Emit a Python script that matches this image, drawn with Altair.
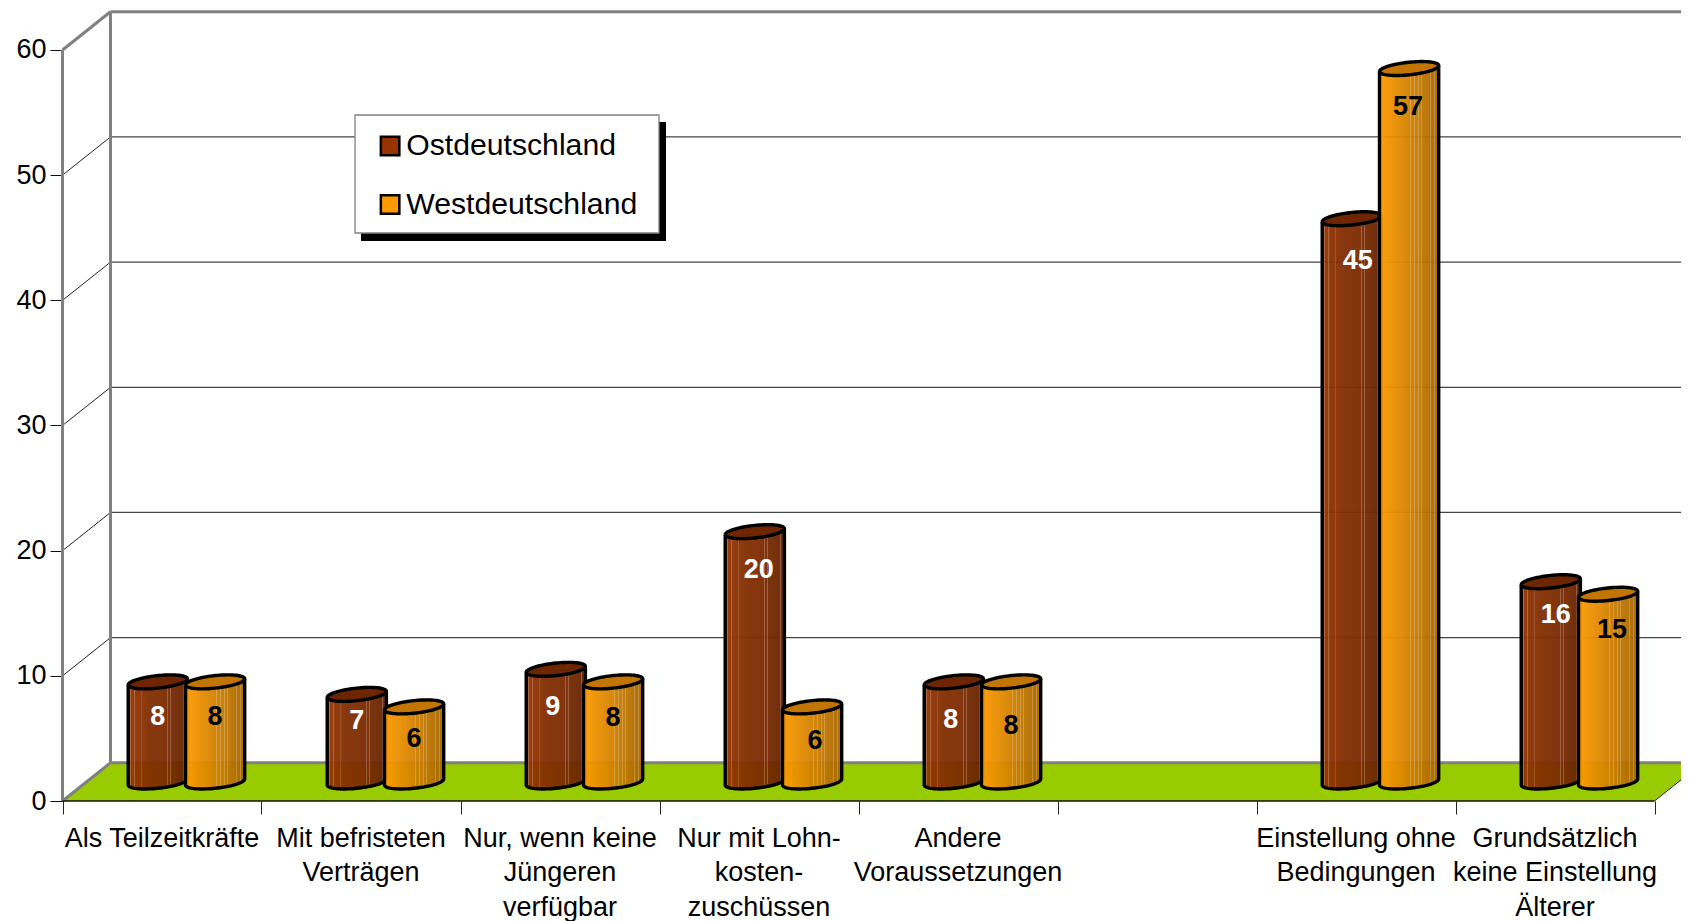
import math
import altair as alt
import pandas as pd

categories = ["Als Teilzeitkräfte", "Mit befristeten\nVerträgen", "Nur, wenn keine\nJüngeren\nverfügbar",
              "Nur mit Lohn-\nkosten-\nzuschüssen", "Andere\nVoraussetzungen", "",
              "Einstellung ohne\nBedingungen", "Grundsätzlich\nkeine Einstellung\nÄlterer"]
ost = [8, 7, 9, 20, 8, None, 45, 16]
west = [8, 6, 8, 6, 8, None, 57, 15]
series_names = ["Ostdeutschland", "Westdeutschland"]
y_ticks = [0, 10, 20, 30, 40, 50, 60]
# where each printed number sits relative to its cylinder (reading of the picture)
ost_drop = [35, 27, 38, 38, 38, 0, 42, 33]
west_drop = [35, 32, 36, 34, 44, 0, 38, 36]
ost_shift = [0, 0, -3, 4, -3, 0, 6, 5]
west_shift = [0, 0, 0, 3, 0, 0, -1, 4]

W, H = 1673, 913
X0, CAT = 62.5, 199.0
Y0, UNIT = 801.0, 12.517
ux = lambda p: (p - X0) / CAT
uy = lambda p: (Y0 - p) / UNIT
DX = 48 / CAT
DY = 38.2 / UNIT
N = len(categories)
FONT = "Liberation Sans"
FS = 27

sx = alt.Scale(domain=[ux(8), ux(8 + W)], nice=False, zero=False)
sy = alt.Scale(domain=[uy(8 + H), uy(8)], nice=False, zero=False)
X = alt.X("x:Q", scale=sx, title=None,
          axis=alt.Axis(values=list(range(N + 1)), labels=False, tickSize=13, tickColor="#222",
                        domain=False, grid=False, offset=-(8 + H - Y0), title=None))
Y = alt.Y("y:Q", scale=sy, title=None,
          axis=alt.Axis(values=y_ticks, tickSize=12.5, tickColor="#111", domain=False, grid=False,
                        offset=-(X0 - 8), labelFont=FONT, labelFontSize=FS, labelColor="black",
                        labelPadding=4, title=None))


def segs(rows):
    out = []
    for i, pts in enumerate(rows):
        for k, (x, y) in enumerate(pts):
            out.append({"x": x, "y": y, "id": i, "k": k})
    return pd.DataFrame(out)


def lines(rows, color, width):
    return alt.Chart(segs(rows)).mark_line(color=color, strokeWidth=width, clip=True).encode(
        x=X, y=Y, detail="id:N", order="k:Q")


def grad(stops):
    return alt.Gradient(gradient="linear", x1=0, x2=1, y1=0, y2=0,
                        stops=[alt.GradientStop(color=c, offset=o) for o, c in stops])


def striped(base, light):
    # smooth horizontal shading with thin pale streaks
    streaks = [.04, .11, .23, .52, .59, .66, .71, .86, .93]
    n = len(base) - 1
    def col(t):
        i = min(int(t * n), n - 1)
        f = t * n - i
        a, b = base[i], base[i + 1]
        return tuple(a[j] + (b[j] - a[j]) * f for j in range(3))
    def hx(c):
        return "#%02x%02x%02x" % tuple(int(round(v)) for v in c)
    stops = []
    marks = sorted([(s, True) for s in streaks] + [(i / 12, False) for i in range(13)])
    for t, st in marks:
        c = col(t)
        if st:
            m = tuple(v + (l - v) * .22 for v, l in zip(c, light))
            stops += [(max(t - .006, 0), hx(c)), (max(t - .005, 0), hx(m)),
                      (t + .005, hx(m)), (t + .006, hx(c))]
        else:
            stops.append((t, hx(c)))
    return grad(stops)


A, K, B = 29.6, 3.0, 6.3
BASE = 782.0
STEPS = 40


def cylinders(values, center_px, fill, cap):
    body, caps, outline = [], [], []
    for i, v in enumerate(values):
        if v is None:
            continue
        cx = X0 + i * CAT + center_px
        base = BASE
        top = BASE - v * UNIT
        up, lo_b, lo_t = [], [], []
        for s in range(STEPS + 1):
            u = -math.cos(math.pi * s / STEPS)
            r = math.sqrt(max(1 - u * u, 0))
            x = cx + A * u
            up.append((x, top - K * u - B * r))
            lo_t.append((x, top - K * u + B * r))
            lo_b.append((x, base - K * u + B * r))
            body.append({"x": ux(x), "y": uy(top - K * u - B * r), "y2": uy(base - K * u + B * r), "id": i})
            caps.append({"x": ux(x), "y": uy(top - K * u - B * r), "y2": uy(top - K * u + B * r), "id": i})
        shape = up + lo_b[::-1] + [up[0]]
        outline.append([(ux(a), uy(b)) for a, b in shape])
        outline.append([(ux(a), uy(b)) for a, b in lo_t])
    enc = dict(x=X, y=Y, y2=alt.Y2("y2:Q"), detail="id:N")
    return [
        alt.Chart(pd.DataFrame(body)).mark_area(fill=fill, fillOpacity=.95, clip=True).encode(**enc),
        alt.Chart(pd.DataFrame(caps)).mark_area(color=cap, clip=True).encode(**enc),
        lines(outline, "black", 3.4),
    ]


grid_back = [[(DX, v + DY), (N + DX, v + DY)] for v in y_ticks[1:-1]]
grid_diag = [[(0, v), (DX, v + DY)] for v in y_ticks[1:-1]]
grid_right = [[(N, 0), (N + DX, DY)]]
walls = [[(0, 0), (0, 60)], [(DX, DY), (DX, 60 + DY)], [(DX, 60 + DY), (N + DX, 60 + DY)],
         [(0, 60), (DX, 60 + DY)], [(0, 0), (DX, DY)], [(DX, DY), (N + DX, DY)]]

floor_df = pd.DataFrame({"x": [0, DX, N, N + DX], "y": [0, DY, DY, DY], "y2": [0, 0, 0, DY]})
floor = alt.Chart(floor_df).mark_area(color="#99CC00", clip=True).encode(x=X, y=Y, y2=alt.Y2("y2:Q"))

rect_enc = dict(x=X, x2=alt.X2("x2:Q"), y=Y, y2=alt.Y2("y2:Q"))
shadow_df = pd.DataFrame({"x": [ux(361)], "x2": [ux(666)], "y": [uy(122)], "y2": [uy(241)]})
shadow = alt.Chart(shadow_df).mark_rect(color="black").encode(**rect_enc)
box_df = pd.DataFrame({"x": [ux(355)], "x2": [ux(659)], "y": [uy(115)], "y2": [uy(233)]})
box = alt.Chart(box_df).mark_rect(fill="white", stroke="#808080", strokeWidth=1.3).encode(**rect_enc)

legend_df = pd.DataFrame({"x": [0, 0], "y": [0, 0], "series": series_names})
legend_layer = alt.Chart(legend_df).mark_point(filled=True, shape="square", size=0).encode(
    x=X, y=Y,
    fill=alt.Fill("series:N", sort=None, scale=alt.Scale(domain=series_names, range=["#993300", "#FF9900"]),
                  legend=alt.Legend(title=None, orient="none", legendX=367, legendY=123, padding=0, rowPadding=27.5,
                                    symbolType="square", symbolSize=342,
                                    symbolStrokeColor="black", symbolStrokeWidth=2.5, symbolOpacity=1,
                                    labelFont=FONT, labelFontSize=30.2, labelColor="black", labelOffset=1,
                                    labelLimit=400)),
)

ost_fill = striped([(150, 52, 0), (130, 45, 0), (122, 42, 0), (100, 34, 0)], (255, 255, 255))
west_fill = striped([(255, 155, 0), (225, 138, 0), (195, 120, 0), (165, 100, 0)], (255, 255, 255))

OST_C, WEST_C = 95.3, 152.6
text_rows = []
for i in range(N):
    for vals, drops, shifts, c, color in ((ost, ost_drop, ost_shift, OST_C, "white"),
                                          (west, west_drop, west_shift, WEST_C, "black")):
        if vals[i] is not None:
            text_rows.append({"x": ux(X0 + i * CAT + c + shifts[i]), "y": uy(BASE - vals[i] * UNIT + drops[i]),
                              "t": str(vals[i]), "c": color})
tdf = pd.DataFrame(text_rows)
value_text = alt.Chart(tdf).mark_text(font=FONT, fontSize=FS, fontWeight="bold", baseline="middle", align="center").encode(
    x=X, y=Y, text="t:N", color=alt.Color("c:N", scale=None))

cat_df = pd.DataFrame({"x": [i + .5 for i in range(N) if categories[i]],
                       "y": [uy(846.5)] * sum(1 for c in categories if c),
                       "t": [c for c in categories if c]})
cat_text = alt.Chart(cat_df).mark_text(font=FONT, fontSize=FS, lineBreak="\n", lineHeight=34.5, baseline="alphabetic",
                                       align="center", color="black").encode(x=X, y=Y, text="t:N")

layers = [lines(grid_back, "#444444", 1.2), lines(grid_diag, "#222222", 1), floor,
          lines(walls, "#808080", 3),
          lines([[(0, 0), (N, 0)]], "#111111", 1.4), lines(grid_right, "#222222", 1)]
layers += cylinders(ost, OST_C, ost_fill, "#6E2600")
layers += cylinders(west, WEST_C, west_fill, "#C27500")
layers += [value_text, cat_text, shadow, box, legend_layer]

chart = alt.layer(*layers).resolve_scale(x="shared", y="shared").properties(
    width=W, height=H, padding=0, autosize=alt.AutoSizeParams(type="none"), background="white"
).configure_view(stroke=None)

chart.save("out.html", embed_options={"renderer": "svg", "actions": False})
